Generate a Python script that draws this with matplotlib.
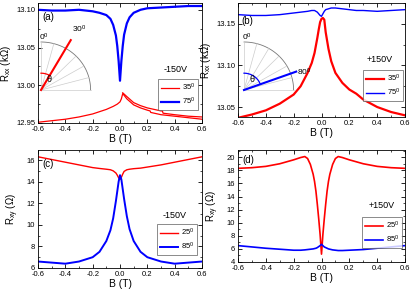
import numpy as np
import matplotlib
matplotlib.use("Agg")
from matplotlib import pyplot as plt
from matplotlib.ticker import MultipleLocator, FormatStrFormatter

plt.rcParams["font.family"] = ["Liberation Sans", "DejaVu Sans"]
plt.rcParams["mathtext.fontset"] = "custom"
plt.rcParams["mathtext.rm"] = "Liberation Sans"
plt.rcParams["mathtext.it"] = "Liberation Sans"

# ---- data ----
# (a) Rxx, -150V
b_a_blue = [-0.6, -0.5, -0.4, -0.3, -0.2, -0.15, -0.1, -0.07, -0.05, -0.03, -0.02, -0.01, 0.0,
            0.01, 0.02, 0.03, 0.05, 0.07, 0.1, 0.15, 0.2, 0.3, 0.4, 0.5, 0.6]
r_a_blue = [13.100, 13.099, 13.099, 13.100, 13.098, 13.096, 13.093, 13.088, 13.080, 13.066, 13.052, 13.032, 13.006,
            13.032, 13.052, 13.067, 13.082, 13.090, 13.096, 13.100, 13.102, 13.103, 13.104, 13.105, 13.105]
b_a_red_up = [-0.6, -0.5, -0.4, -0.3, -0.2, -0.1, -0.05, -0.02, 0.0, 0.01, 0.02, 0.05, 0.1, 0.15,
              0.2, 0.22, 0.225, 0.3, 0.4, 0.5, 0.6]
r_a_red_up = [12.951, 12.953, 12.955, 12.958, 12.962, 12.968, 12.972, 12.975, 12.978, 12.982, 12.989, 12.982, 12.974, 12.970,
              12.967, 12.966, 12.964, 12.961, 12.959, 12.957, 12.955]
b_a_red_dn = [0.02, 0.05, 0.1, 0.15, 0.2, 0.25, 0.3, 0.31, 0.315, 0.4, 0.5, 0.6]
r_a_red_dn = [12.990, 12.985, 12.977, 12.973, 12.970, 12.968, 12.966, 12.966, 12.963, 12.961, 12.959, 12.958]

# (b) Rxx, +150V
b_b = [-0.6, -0.5, -0.4, -0.3, -0.2, -0.15, -0.1, -0.07, -0.05, -0.03, -0.02, -0.01, 0.0,
       0.01, 0.02, 0.03, 0.05, 0.07, 0.1, 0.15, 0.2, 0.25, 0.3, 0.4, 0.5, 0.6]
r_b_red = [13.037, 13.041, 13.046, 13.054, 13.065, 13.075, 13.091, 13.103, 13.115, 13.133, 13.143, 13.152, 13.156,
           13.157, 13.155, 13.140, 13.120, 13.105, 13.091, 13.079, 13.071, 13.066, 13.059, 13.050, 13.044, 13.040]
r_b_blue = [13.161, 13.160, 13.160, 13.161, 13.163, 13.164, 13.165, 13.166, 13.166, 13.164, 13.162, 13.160, 13.159,
            13.162, 13.165, 13.167, 13.168, 13.169, 13.169, 13.168, 13.167, 13.166, 13.166, 13.165, 13.166, 13.167]

# (c) Rxy, -150V
b_c = [-0.6, -0.5, -0.4, -0.3, -0.2, -0.15, -0.1, -0.07, -0.05, -0.03, -0.02, -0.01, 0.0,
       0.01, 0.02, 0.03, 0.05, 0.07, 0.1, 0.15, 0.2, 0.3, 0.4, 0.5, 0.6]
r_c_red = [16.3, 16.05, 15.8, 15.55, 15.3, 15.22, 15.15, 15.1, 15.0, 14.8, 14.6, 14.35, 14.2,
           14.4, 14.7, 14.95, 15.1, 15.15, 15.2, 15.25, 15.35, 15.55, 15.8, 16.05, 16.3]
r_c_blue = [6.6, 6.5, 6.4, 6.6, 7.0, 7.5, 8.5, 9.5, 10.6, 12.2, 13.1, 14.0, 14.6,
            14.2, 13.3, 12.4, 10.8, 9.6, 8.5, 7.5, 7.0, 6.6, 6.4, 6.5, 6.6]

# (d) Rxy, +150V
b_d = [-0.6, -0.5, -0.4, -0.3, -0.2, -0.15, -0.12, -0.1, -0.08, -0.06, -0.05, -0.04, -0.03, -0.02, -0.01, 0.0,
       0.01, 0.02, 0.03, 0.04, 0.05, 0.06, 0.08, 0.1, 0.12, 0.15, 0.2, 0.3, 0.4, 0.5, 0.6]
r_d_red = [18.3, 18.4, 18.6, 19.0, 19.6, 19.95, 20.1, 19.8, 18.9, 17.4, 16.3, 14.8, 12.8, 10.6, 8.2, 5.2,
           8.2, 10.6, 12.8, 14.8, 16.3, 17.4, 18.9, 19.8, 20.1, 19.95, 19.6, 19.0, 18.6, 18.4, 18.3]
r_d_blue = [6.5, 6.3, 6.1, 5.95, 5.8, 5.8, 5.85, 5.9, 5.95, 6.0, 6.05, 6.1, 6.2, 6.35, 6.5, 6.7,
            6.5, 6.3, 6.2, 6.1, 6.0, 5.95, 5.85, 5.8, 5.75, 5.75, 5.8, 5.9, 6.1, 6.3, 6.5]

W, H = 415, 295
fig = plt.figure(figsize=(W / 100, H / 100), dpi=100)


def box(l, t, r, b):
    return [l / W, 1 - b / H, (r - l) / W, (b - t) / H]


def style(ax, ylim, ymaj, ymin, yfmt):
    ax.set_xlim(-0.6, 0.6)
    ax.set_ylim(*ylim)
    ax.xaxis.set_major_locator(MultipleLocator(0.2))
    ax.xaxis.set_minor_locator(MultipleLocator(0.1))
    ax.xaxis.set_major_formatter(FormatStrFormatter("%.1f"))
    ax.yaxis.set_major_locator(MultipleLocator(ymaj))
    ax.yaxis.set_minor_locator(MultipleLocator(ymin))
    ax.yaxis.set_major_formatter(FormatStrFormatter(yfmt))
    ax.tick_params(which="both", direction="in", top=True, right=True, labelsize=5.5, pad=2)
    ax.tick_params(which="major", length=3, width=0.6)
    ax.tick_params(which="minor", length=1.5, width=0.5)
    for s in ax.spines.values():
        s.set_linewidth(0.6)
    ax.set_xlabel("B (T)", fontsize=7.5, labelpad=1)


def legend(ax, labels, left, top):
    leg = ax.legend(labels, loc="upper left", bbox_to_anchor=(left / W, 1 - top / H),
                    bbox_transform=fig.transFigure, fontsize=5.5, frameon=True, fancybox=False,
                    edgecolor="#555555", handlelength=2.4, borderpad=0.4, labelspacing=0.3,
                    handletextpad=0.3, borderaxespad=0)
    leg.get_frame().set_linewidth(0.6)


def note(x, y, s):
    fig.text(x / W, 1 - y / H, s, fontsize=6.5, va="center")


def inset(rect, ang, color, label, llen, labpos):
    ins = fig.add_axes(box(*rect))
    ins.set_xlim(0, 1.25)
    ins.set_ylim(0, 1.25)
    ins.axis("off")
    t = np.linspace(0, np.pi / 2, 60)
    ins.plot(np.sin(t), np.cos(t), color="#777777", lw=0.6, clip_on=False)
    for a in range(0, 91, 15):
        r = np.radians(a)
        ins.plot([0, np.sin(r)], [0, np.cos(r)], color="#cccccc", lw=0.5, clip_on=False)
    r = np.radians(ang)
    ins.plot([0, llen * np.sin(r)], [0, llen * np.cos(r)], color=color, lw=1.5, clip_on=False)
    tt = np.linspace(0, r, 30)
    ins.plot(0.35 * np.sin(tt), 0.35 * np.cos(tt), color=color, lw=0.9, clip_on=False)
    ins.text(0.1, 0.16, r"$\theta$", fontsize=6.5)
    ins.text(-0.05, 1.03, r"0$^0$", fontsize=6)
    ins.text(labpos[0], labpos[1], label, fontsize=6)


# (a)
ax = fig.add_axes(box(38, 3, 202, 123))
ax.plot(b_a_red_up, r_a_red_up, color="red", lw=0.9)
ax.plot(b_a_blue, r_a_blue, color="blue", lw=1.6)
ax.plot(b_a_red_dn, r_a_red_dn, color="red", lw=0.9)
style(ax, (12.95, 13.109), 0.05, 0.025, "%.2f")
ax.set_ylabel(r"R$_{xx}$ (k$\Omega$)", fontsize=7, labelpad=2)
ax.text(0.025, 0.86, "(a)", transform=ax.transAxes, fontsize=7)
note(164, 70, "-150V")
legend(ax, [r"35$^0$", r"75$^0$"], 158, 79)
inset((41, 30, 103, 90), 30, "red", r"30$^0$", 1.2, (0.62, 1.2))

# (b)
ax = fig.add_axes(box(238, 3, 405, 117))
ax.plot(b_b, r_b_red, color="red", lw=1.6)
ax.plot(b_b, r_b_blue, color="blue", lw=1.0)
style(ax, (13.038, 13.175), 0.05, 0.025, "%.2f")
ax.set_ylabel(r"R$_{xx}$ (k$\Omega$)", fontsize=7, labelpad=2)
ax.text(0.02, 0.82, "(b)", transform=ax.transAxes, fontsize=7)
note(367, 60, "+150V")
legend(ax, [r"35$^0$", r"75$^0$"], 363, 70)
inset((244, 30, 306, 90), 70, "blue", r"80$^0$", 1.12, (1.07, 0.3))

# (c)
ax = fig.add_axes(box(38, 150, 202, 268))
ax.plot(b_c, r_c_red, color="red", lw=1.0)
ax.plot(b_c, r_c_blue, color="blue", lw=1.4)
style(ax, (6, 16.93), 2, 1, "%d")
ax.set_ylabel(r"R$_{xy}$ ($\Omega$)", fontsize=7, labelpad=4)
ax.text(0.025, 0.86, "(c)", transform=ax.transAxes, fontsize=7)
note(163, 215, "-150V")
legend(ax, [r"25$^0$", r"85$^0$"], 157, 224)

# (d)
ax = fig.add_axes(box(238, 150, 405, 262))
ax.plot(b_d, r_d_red, color="red", lw=1.2)
ax.plot(b_d, r_d_blue, color="blue", lw=1.2)
style(ax, (4, 21.1), 2, 1, "%d")
ax.set_ylabel(r"R$_{xy}$ ($\Omega$)", fontsize=7, labelpad=4)
ax.text(0.025, 0.88, "(d)", transform=ax.transAxes, fontsize=7)
note(369, 206, "+150V")
legend(ax, [r"25$^0$", r"85$^0$"], 362, 217)

fig.savefig("out.png", dpi=100)
